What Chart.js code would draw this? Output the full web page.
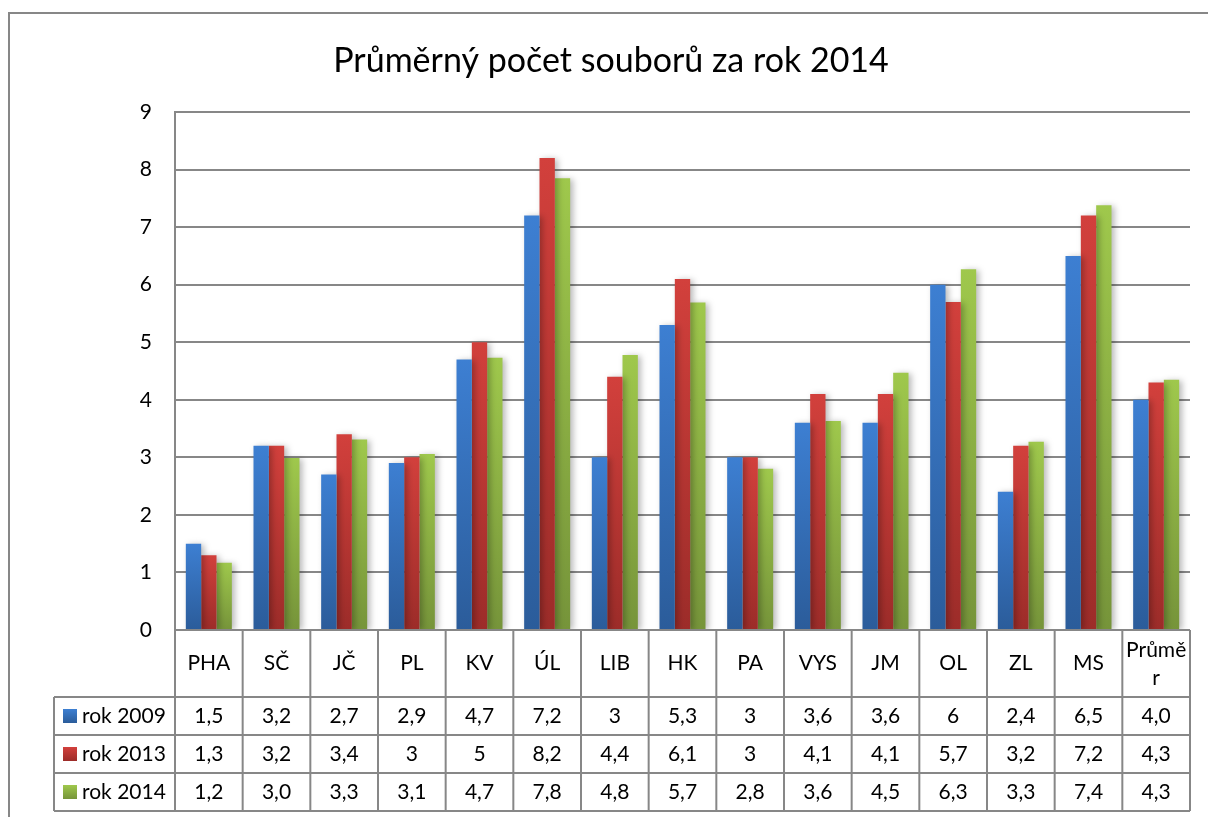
<!DOCTYPE html>
<html>
<head>
<meta charset="utf-8">
<script src="https://cdn.jsdelivr.net/npm/chart.js@4.4.0/dist/chart.umd.min.js"></script>
<style>
    html, body { margin: 0; padding: 0; background: #fff; }
    #obal { width: 1208px; height: 817px; }
</style>
</head>
<body>
<div id="obal"><canvas id="grafSouboru" width="1208" height="817"></canvas></div>
<script>
// Data grafu
const kategorie = ['PHA', 'SČ', 'JČ', 'PL', 'KV', 'ÚL', 'LIB', 'HK', 'PA', 'VYS', 'JM', 'OL', 'ZL', 'MS', 'Průměr'];
const rok2009 = [1.5, 3.2, 2.7, 2.9, 4.7, 7.2, 3.0, 5.3, 3.0, 3.6, 3.6, 6.0, 2.4, 6.5, 4.0];
const rok2013 = [1.3, 3.2, 3.4, 3.0, 5.0, 8.2, 4.4, 6.1, 3.0, 4.1, 4.1, 5.7, 3.2, 7.2, 4.3];
const rok2014 = [1.17, 2.99, 3.31, 3.06, 4.73, 7.85, 4.78, 5.69, 2.80, 3.63, 4.47, 6.27, 3.27, 7.38, 4.35];

// Texty v tabulce dat (tak jak jsou zobrazené)
const text2009 = ['1,5', '3,2', '2,7', '2,9', '4,7', '7,2', '3', '5,3', '3', '3,6', '3,6', '6', '2,4', '6,5', '4,0'];
const text2013 = ['1,3', '3,2', '3,4', '3', '5', '8,2', '4,4', '6,1', '3', '4,1', '4,1', '5,7', '3,2', '7,2', '4,3'];
const text2014 = ['1,2', '3,0', '3,3', '3,1', '4,7', '7,8', '4,8', '5,7', '2,8', '3,6', '4,5', '6,3', '3,3', '7,4', '4,3'];
const popiskyKategorii = [['PHA'], ['SČ'], ['JČ'], ['PL'], ['KV'], ['ÚL'], ['LIB'], ['HK'], ['PA'], ['VYS'], ['JM'], ['OL'], ['ZL'], ['MS'], ['Průmě', 'r']];

const yMin = 0, yMax = 9, yKrok = 1;

const PISMO = 'Lato, "Open Sans", sans-serif';
const SEDA = '#878787';

// Barvy (horní, dolní) pro přechod
const barvy = [
    ['#3d7fd2', '#2b5c9a'],
    ['#d2403c', '#9c2c29'],
    ['#9fc84c', '#76943a']
];

// Přechod pro každý sloupec zvlášť
function prechod(horni, dolni) {
    return function(context) {
        const chart = context.chart;
        if (!chart.chartArea || context.type !== 'data') return dolni;
        const y = chart.scales.y;
        const top = y.getPixelForValue(context.parsed.y);
        const base = y.getPixelForValue(0);
        const g = chart.ctx.createLinearGradient(0, top, 0, base);
        g.addColorStop(0, horni);
        g.addColorStop(1, dolni);
        return g;
    };
}

// Rámeček celého grafu
const ramecekPlugin = {
    id: 'ramecek',
    beforeDraw(chart) {
        const ctx = chart.ctx;
        ctx.save();
        ctx.fillStyle = '#fff';
        ctx.fillRect(0, 0, chart.width, chart.height);
        ctx.strokeStyle = SEDA;
        ctx.lineWidth = 2;
        ctx.strokeRect(9, 13, chart.width + 20, chart.height + 20);
        ctx.restore();
    }
};

// Stín sloupců
const stinPlugin = {
    id: 'stin',
    beforeDatasetsDraw(chart) {
        const ctx = chart.ctx;
        ctx.save();
        ctx.shadowColor = 'rgba(0, 0, 0, 0.28)';
        ctx.shadowBlur = 6;
        ctx.shadowOffsetX = 3;
        ctx.shadowOffsetY = 1;
    },
    afterDatasetsDraw(chart) {
        chart.ctx.restore();
    }
};

// Tabulka dat pod grafem
const tabulkaPlugin = {
    id: 'tabulka',
    afterDraw(chart) {
        const ctx = chart.ctx;
        const x = chart.scales.x;
        const area = chart.chartArea;
        const n = kategorie.length;
        const sirka = x.getPixelForValue(1) - x.getPixelForValue(0);
        const hlavicka = 67;
        const radek = 38;
        const levo = 54;
        const y0 = area.bottom;
        const y1 = y0 + hlavicka;
        const yKonec = y1 + radek * 3;

        ctx.save();
        ctx.strokeStyle = SEDA;
        ctx.lineWidth = 2;

        // vodorovné čáry
        ctx.beginPath();
        ctx.moveTo(area.left, y0); ctx.lineTo(area.right, y0);
        for (let r = 0; r <= 3; r++) {
            ctx.moveTo(levo, y1 + r * radek);
            ctx.lineTo(area.right, y1 + r * radek);
        }
        // svislé čáry
        ctx.moveTo(levo, y1); ctx.lineTo(levo, yKonec);
        for (let i = 0; i <= n; i++) {
            const xx = x.getPixelForValue(0) - sirka / 2 + i * sirka;
            ctx.moveTo(xx, y0);
            ctx.lineTo(xx, yKonec);
        }
        ctx.stroke();

        // texty
        ctx.fillStyle = '#000';
        ctx.font = '21px ' + PISMO;
        ctx.textAlign = 'center';
        ctx.textBaseline = 'middle';
        popiskyKategorii.forEach((radky, i) => {
            const cx = x.getPixelForValue(i);
            if (radky.length === 1) {
                ctx.fillText(radky[0], cx, y0 + hlavicka / 2);
            } else {
                ctx.fillText(radky[0], cx, y0 + 20);
                ctx.fillText(radky[1], cx, y0 + 48);
            }
        });

        const radkyTabulky = [text2009, text2013, text2014];
        radkyTabulky.forEach((hodnoty, r) => {
            const cy = y1 + r * radek + radek / 2;
            hodnoty.forEach((t, i) => {
                ctx.fillText(t, x.getPixelForValue(i), cy);
            });
            // legenda
            const ds = chart.data.datasets[r];
            const g = ctx.createLinearGradient(0, cy - 7, 0, cy + 7);
            g.addColorStop(0, barvy[r][0]);
            g.addColorStop(1, barvy[r][1]);
            ctx.fillStyle = g;
            ctx.fillRect(63, cy - 7, 14, 14);
            ctx.fillStyle = '#000';
            ctx.textAlign = 'left';
            ctx.fillText(ds.label, 82, cy);
            ctx.textAlign = 'center';
        });
        ctx.restore();
    }
};

const ctx = document.getElementById('grafSouboru').getContext('2d');
window.grafSouboru = new Chart(ctx, {
    type: 'bar',
    data: {
        labels: kategorie,
        datasets: [
            { label: 'rok 2009', data: rok2009, backgroundColor: prechod(barvy[0][0], barvy[0][1]) },
            { label: 'rok 2013', data: rok2013, backgroundColor: prechod(barvy[1][0], barvy[1][1]) },
            { label: 'rok 2014', data: rok2014, backgroundColor: prechod(barvy[2][0], barvy[2][1]) }
        ]
    },
    options: {
        responsive: false,
        animation: false,
        layout: {
            padding: { left: 32, right: 18, top: 42, bottom: 187 }
        },
        datasets: {
            bar: {
                categoryPercentage: 0.68,
                barPercentage: 1.0,
                borderWidth: 0
            }
        },
        plugins: {
            legend: { display: false },
            tooltip: { enabled: false },
            title: {
                display: true,
                text: 'Průměrný počet souborů za rok 2014',
                color: '#000',
                font: { family: PISMO, size: 34, weight: 'normal', lineHeight: 1.125 },
                padding: { top: 0, bottom: 31.75 }
            }
        },
        scales: {
            x: {
                display: false
            },
            y: {
                min: yMin,
                max: yMax,
                afterFit: function(scale) { scale.width = 143; },
                ticks: {
                    stepSize: yKrok,
                    padding: 23,
                    color: '#000',
                    font: { family: PISMO, size: 21 }
                },
                grid: {
                    color: SEDA,
                    lineWidth: 2,
                    drawTicks: false
                },
                border: { color: SEDA, width: 2 }
            }
        }
    },
    plugins: [ramecekPlugin, stinPlugin, tabulkaPlugin]
});
</script>
</body>
</html>
